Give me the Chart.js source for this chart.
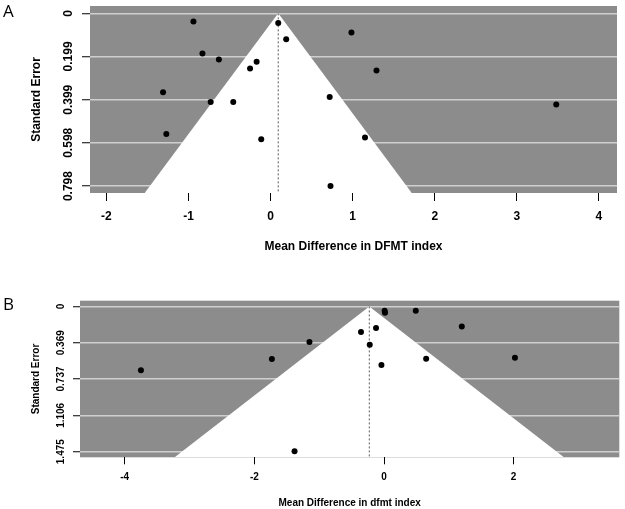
<!DOCTYPE html>
<html><head><meta charset="utf-8">
<script src="https://cdn.jsdelivr.net/npm/chart.js@4.4.0/dist/chart.umd.min.js"></script>
<style>
html,body{margin:0;padding:0;background:#fff;}
body{width:625px;height:509px;position:relative;overflow:hidden;}
.wrap{position:absolute;left:0;width:625px;}
.lab{position:absolute;left:3px;font-family:"Open Sans",sans-serif;font-size:17px;line-height:17px;color:#000;}
</style></head><body>
<div class="wrap" style="top:0;height:258px"><canvas id="cA" width="625" height="258"></canvas></div>
<div class="wrap" style="top:258px;height:251px"><canvas id="cB" width="625" height="251"></canvas></div>
<div class="lab" style="top:2px">A</div>
<div class="lab" style="top:295px">B</div>
<script>
// ---- Panel A data ----
const mdA = [-0.94, -0.83, -0.63, -0.17, -0.25, 0.093, 0.19, -1.31, -0.73, -0.455, -1.27, -0.114, 0.985, 1.29, 0.72, 3.48, 1.15, 0.73];
const seA = [0.038, 0.185, 0.213, 0.224, 0.255, 0.045, 0.120, 0.364, 0.41, 0.41, 0.557, 0.582, 0.088, 0.264, 0.387, 0.421, 0.573, 0.798];
const xTicksA = [-2, -1, 0, 1, 2, 3, 4];
const seTicksA = [0, 0.199, 0.399, 0.598, 0.798];
const pooledA = 0.093;
const xTitleA = 'Mean Difference in DFMT index';

// ---- Panel B data ----
const mdB = [-3.75, -1.73, -1.15, -1.38, -0.355, -0.123, -0.22, -0.04, 0.01, 0.015, 0.49, 1.20, 0.65, 2.02];
const seB = [0.649, 0.535, 0.362, 1.471, 0.261, 0.220, 0.389, 0.595, 0.045, 0.065, 0.045, 0.203, 0.531, 0.521];
const xTicksB = [-4, -2, 0, 2];
const seTicksB = [0, 0.369, 0.737, 1.106, 1.475];
const pooledB = -0.227;
const xTitleB = 'Mean Difference in dfmt index';

const yTitle = 'Standard Error';
const Z = 1.96;

const bgPlugin = {
  id: 'plotBg',
  beforeDraw(chart) {
    const {ctx, chartArea: a} = chart;
    ctx.save();
    ctx.fillStyle = '#8c8c8c';
    ctx.fillRect(a.left, a.top, a.right - a.left, a.bottom - a.top);
    ctx.restore();
  }
};

function makeFunnel(id, c) {
  const seMax = c.yRange[1];
  const pts = c.md.map((v, i) => ({x: v, y: c.se[i]}));
  const tri = [
    {x: c.pooled - Z * seMax, y: seMax},
    {x: c.pooled, y: 0},
    {x: c.pooled + Z * seMax, y: seMax}
  ];
  const vline = [{x: c.pooled, y: 0}, {x: c.pooled, y: seMax}];
  const fam = '"Liberation Sans", Arial, sans-serif';
  const f = {family: fam, size: c.fs, weight: 'bold', lineHeight: 1.2};
  return new Chart(document.getElementById(id), {
    type: 'scatter',
    data: {
      datasets: [
        {data: pts, order: 0, pointRadius: 3, pointHoverRadius: 3, backgroundColor: '#000', borderWidth: 0},
        {type: 'line', data: vline, order: 1, borderColor: '#5a5a5a', borderWidth: 1, borderDash: [2, 2], pointRadius: 0, fill: false},
        {type: 'line', data: tri, order: 2, borderWidth: 0, borderColor: 'rgba(255,255,255,0)', backgroundColor: '#ffffff', pointRadius: 0, fill: 'start', tension: 0}
      ]
    },
    options: {
      responsive: false,
      animation: false,
      events: [],
      layout: {padding: c.pad},
      plugins: {legend: {display: false}, tooltip: {enabled: false}},
      scales: {
        x: {
          type: 'linear', min: c.xRange[0], max: c.xRange[1],
          afterBuildTicks: s => { s.ticks = c.xTicks.map(v => ({value: v})); },
          afterFit: s => { s.height = c.xH; },
          grid: {drawOnChartArea: false, drawTicks: true, tickLength: c.tl, tickColor: '#000', tickWidth: 1},
          border: {display: false},
          ticks: {font: f, color: '#000', padding: c.xtp, minRotation: 0, maxRotation: 0, autoSkip: false, callback: v => String(v)},
          title: {display: true, text: c.xTitle, font: f, color: '#000', padding: {top: 0, bottom: c.xTitlePad}}
        },
        y: {
          type: 'linear', reverse: true, min: c.yRange[0], max: c.yRange[1],
          afterBuildTicks: s => { s.ticks = c.yTicks.map(v => ({value: v})); },
          afterFit: s => { s.width = c.yW; },
          grid: {color: '#cfcfcf', lineWidth: 1.5, drawTicks: true, tickLength: c.tl, tickColor: '#000', tickWidth: 1},
          border: {display: false},
          ticks: {font: f, color: '#000', padding: c.ytp, minRotation: 90, maxRotation: 90, crossAlign: 'center', autoSkip: false, callback: v => String(v)},
          title: {display: true, text: yTitle, font: f, color: '#000', padding: {top: c.yTitlePad, bottom: 0}}
        }
      }
    },
    plugins: [bgPlugin]
  });
}

makeFunnel('cA', {
  md: mdA, se: seA, xTicks: xTicksA, yTicks: seTicksA, pooled: pooledA, xTitle: xTitleA,
  xRange: [-2.2, 4.22], yRange: [-0.034, 0.83],
  pad: {left: 0, right: 8, top: 6, bottom: 0},
  xH: 65, yW: 90, fs: 12, tl: 8, xtp: 8.8, ytp: -1.7, xTitlePad: 3.8, yTitlePad: 29.8
});
makeFunnel('cB', {
  md: mdB, se: seB, xTicks: xTicksB, yTicks: seTicksB, pooled: pooledB, xTitle: xTitleB,
  xRange: [-4.69, 3.63], yRange: [-0.058, 1.532],
  pad: {left: 0, right: 5.7, top: 42.7, bottom: 0},
  xH: 51.7, yW: 80, fs: 10, tl: 7, xtp: 6.7, ytp: -0.5, xTitlePad: 0, yTitlePad: 30
});
</script>
</body></html>
